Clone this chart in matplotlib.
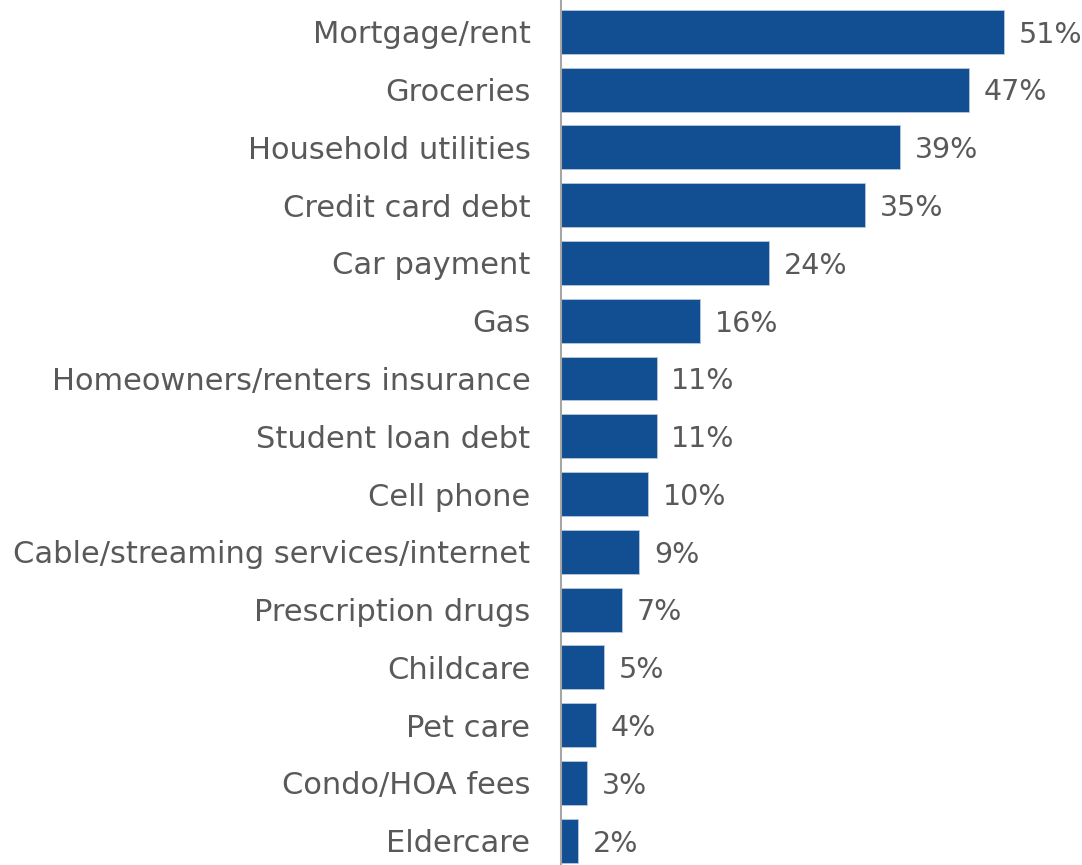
import matplotlib
matplotlib.use('Agg')
import matplotlib.pyplot as plt

categories = ['Mortgage/rent', 'Groceries', 'Household utilities', 'Credit card debt',
              'Car payment', 'Gas', 'Homeowners/renters insurance', 'Student loan debt',
              'Cell phone', 'Cable/streaming services/internet', 'Prescription drugs',
              'Childcare', 'Pet care', 'Condo/HOA fees', 'Eldercare']
values = [51, 47, 39, 35, 24, 16, 11, 11, 10, 9, 7, 5, 4, 3, 2]

bar_color = '#124F92'
text_color = '#595959'

plt.rcParams['font.family'] = ['DejaVu Sans']

fig = plt.figure(figsize=(10.82, 8.65), dpi=100)
ax = fig.add_axes([0.5185, 0.0, 0.4815, 1.0])

pos = list(range(len(categories)))
ax.barh(pos, values, height=0.76, color=bar_color, edgecolor='#b8c8dc', linewidth=0.6)

# value labels just past the end of each bar
for y, v in zip(pos, values):
    ax.text(v + 1.7, y + 0.05, f'{v}%', va='center', ha='left',
            fontsize=20.5, color=text_color)

ax.set_xlim(0, 60)
ax.set_ylim(len(categories) - 1 + 0.42, -0.55)
ax.set_yticks(pos)
ax.set_yticklabels(categories, fontsize=22, color=text_color)
ax.tick_params(axis='y', length=0, pad=22)
ax.set_xticks([])

for side in ['top', 'right', 'bottom']:
    ax.spines[side].set_visible(False)
ax.spines['left'].set_color('#a6a6a6')
ax.spines['left'].set_linewidth(1.5)

fig.savefig('out.png', dpi=100)
